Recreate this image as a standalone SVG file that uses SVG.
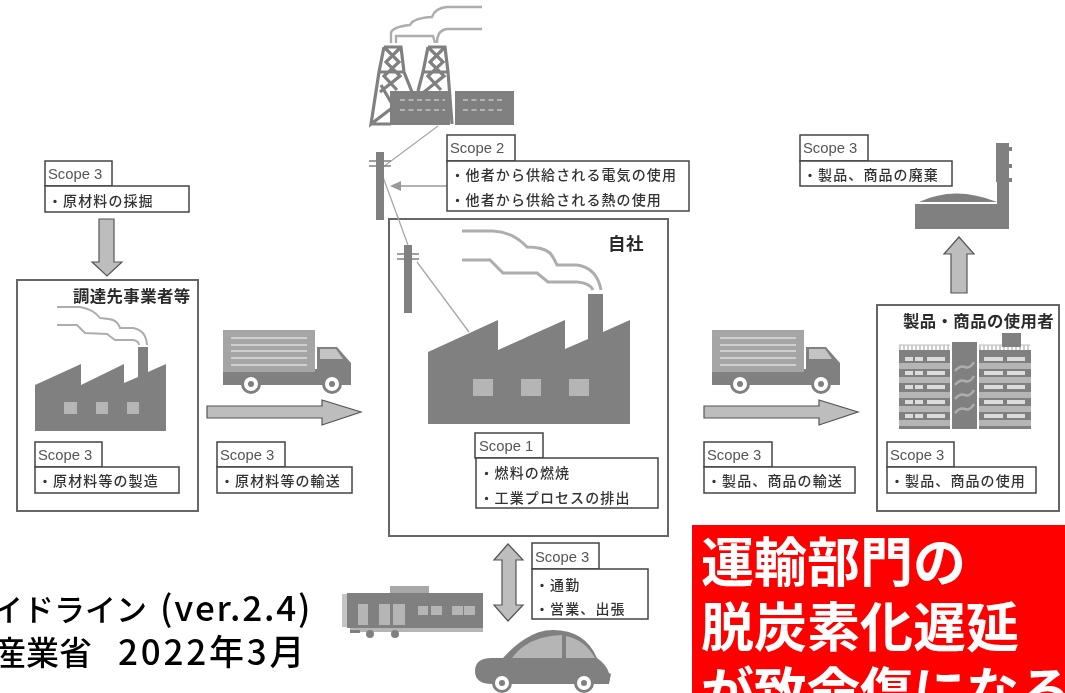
<svg xmlns="http://www.w3.org/2000/svg" width="1065" height="693" viewBox="0 0 1065 693">
<style>
text{font-family:"Noto Sans CJK JP","Liberation Sans",sans-serif;fill:#333}
.s{font-family:"Liberation Sans","Noto Sans CJK JP",sans-serif;font-size:14.800px;fill:#555}
.t{font-size:14px;letter-spacing:1.1px;font-weight:500}
.h{font-size:16.400px;font-weight:700;letter-spacing:.4px;fill:#2c2c2c}
.b{fill:#fff;stroke:#444;stroke-width:1.5}
.f{fill:#fff;stroke:#666;stroke-width:2}
.d{fill:#808080}
.l{fill:#b5b5b5}
.sm{fill:none;stroke:#adadad;stroke-width:2.400}
.sl{fill:none;stroke:#a8a8a8;stroke-width:1.300}
.ar{fill:#bdbdbd;stroke:#555;stroke-width:1.200}
.tw{fill:none;stroke:#808080;stroke-width:3.200}
.big{font-size:53px;font-weight:700;fill:#fff}
.src{fill:#000;font-weight:500}
</style>
<defs>
<filter id="soft" x="-2%" y="-2%" width="104%" height="104%"><feGaussianBlur stdDeviation="0.5"/></filter>
<g id="truck">
<rect x="223" y="330" width="92" height="42" fill="#a5a5a5"/>
<path fill="#cfcfcf" d="M231 337h76v2h-76zM231 344h76v2h-76zM231 350h76v2h-76zM231 357h76v2h-76zM231 364h76v2h-76z"/>
<path class="d" d="M223 372h92v-3h2v-22h20l14 16v22H223z"/>
<path fill="#c4c4c4" d="M320 349h16l7 10h-23z"/>
<circle cx="251" cy="384" r="8.500" fill="#fff" stroke="#808080" stroke-width="3"/><circle cx="251" cy="384" r="3" class="d"/>
<circle cx="332" cy="384" r="8.500" fill="#fff" stroke="#808080" stroke-width="3"/><circle cx="332" cy="384" r="3" class="d"/>
</g>
<g id="pole">
<rect class="d" x="0" y="0" width="8" height="68"/>
<path d="M-7 9h22M-7 14h22" stroke="#808080" stroke-width="1.600"/>
</g>
<path id="harrow" class="ar" d="M207 406h115v-6l39 12-39 13v-7H207z"/>
</defs>
<g filter="url(#soft)">
<g id="connectors">
<path class="sl" d="M438 126 383 167M383 177 408 245M417 262 469 332"/>
<path d="M447 186H394" stroke="#999" stroke-width="1.500"/>
<path fill="#999" d="M390 186l11-5v10z"/>
<path class="ar" d="M99 219h15v43h8l-15 14-15-14h7z"/>
<use href="#harrow"/>
<use href="#harrow" x="497"/>
<path class="ar" d="M951 293v-39h-7l15-17 15 17h-7v39z"/>
<path class="ar" d="M508 544l15 16h-7v45h7l-15 16-14-16h8v-45h-8z"/>
</g>
<g id="power-plant">
<path class="sm" d="M391 43V33Q392 27 410 25Q413 18 432 17Q435 8 447 7H482"/>
<path class="sm" d="M396 43V36H433L435 43M437 43Q437 30 447 29H482"/>
<path class="tw" d="M384 47H401L404 72 412 92M384 47 379 72 371 124 392 108M384 47 399 62 384 76 397 90M401 47 386 62 400 76 380 92M379 72H404M371 124 391 124M381 85 392 104"/>
<path class="tw" d="M428 47H445L448 72 452 124M428 47 423 72 418 91M428 47 443 62 428 76 441 90M445 47 430 62 444 76 424 92M423 72H448"/>
<rect class="d" x="390" y="91" width="60" height="34"/>
<rect class="d" x="455" y="91" width="59" height="34"/>
<path d="M400 100h45M400 110h45M463 100h42M463 110h42" stroke="#c4c4c4" stroke-width="1.400" stroke-dasharray="5 3.500"/>
</g>
<g id="pole-1"><use href="#pole" x="376" y="152"/></g>
<g id="scope2">
<rect class="b" x="447" y="135" width="68" height="26"/>
<rect class="b" x="447" y="161" width="242" height="50"/>
<text class="s" x="450" y="153">Scope 2</text>
<text class="t" x="450.500" y="180">・他者から供給される電気の使用</text>
<text class="t" x="450.500" y="205">・他者から供給される熱の使用</text>
</g>
<g id="scope3-extract">
<rect class="b" x="45" y="161" width="67" height="25"/>
<rect class="b" x="45" y="186" width="144" height="26"/>
<text class="s" x="48" y="179">Scope 3</text>
<text class="t" x="48" y="206">・原材料の採掘</text>
</g>
<g id="supplier">
<rect class="f" x="17" y="280" width="181" height="231"/>
<text class="h" x="73" y="302">調達先事業者等</text>
<path class="sm" style="stroke-width:2" d="M57 307H80Q93 309 100 318Q110 319 113 320Q118 322 120 328H133Q146 330 147 345"/>
<path class="sm" style="stroke-width:2" d="M57 325H77L85 333 107 334 115 340H133Q139 341 139 345"/>
<path class="d" d="M35 385 81 364V385L124 364V383L138 377V347H148V372L166 364V431H35z"/>
<path class="l" d="M64 402h13v12H64zM96 402h12v12H96zM127 402h12v12h-12z"/>
<rect class="b" x="35" y="442" width="67" height="25"/>
<rect class="b" x="35" y="467" width="144" height="26"/>
<text class="s" x="38" y="460">Scope 3</text>
<text class="t" x="38" y="486">・原材料等の製造</text>
</g>
<g id="truck-in"><use href="#truck"/></g>
<g id="scope3-inbound">
<rect class="b" x="217" y="442" width="68" height="25"/>
<rect class="b" x="217" y="467" width="135" height="26"/>
<text class="s" x="220" y="460">Scope 3</text>
<text class="t" x="220" y="486">・原材料等の輸送</text>
</g>
<g id="own-company">
<rect class="f" x="389" y="219" width="279" height="317"/>
<text class="h" x="608" y="250" style="font-size:17.500px">自社</text>
<use href="#pole" x="404" y="245"/>
<path class="sl" d="M417 262 469 332M397 215 408 245"/>
<path class="sm" style="stroke-width:3" d="M462 231H493Q513 232 527 247Q543 247 550 253Q554 258 557 265H577Q597 268 601 290"/>
<path class="sm" style="stroke-width:3" d="M462 260H490L503 273H537L548 282H577Q590 283 593 290"/>
<path class="d" d="M428 352 498 320V350L565 320V349L588 339V294H603V332L630 320V424H428z"/>
<path class="l" d="M473 379h20v17h-20zM521 379h20v17h-20zM569 379h20v17h-20z"/>
<rect class="b" x="475" y="433" width="68" height="25"/>
<rect class="b" x="476" y="458" width="182" height="50"/>
<text class="s" x="479" y="451">Scope 1</text>
<text class="t" x="479.500" y="478">・燃料の燃焼</text>
<text class="t" x="479.500" y="503">・工業プロセスの排出</text>
</g>
<g id="truck-out"><use href="#truck" x="489"/></g>
<g id="scope3-outbound">
<rect class="b" x="704" y="442" width="68" height="25"/>
<rect class="b" x="704" y="467" width="151" height="26"/>
<text class="s" x="707" y="460">Scope 3</text>
<text class="t" x="707" y="486">・製品、商品の輸送</text>
</g>
<g id="user">
<rect class="f" x="877" y="305" width="182" height="206"/>
<text class="h" x="903" y="327">製品・商品の使用者</text>
<path d="M900 350V345M904 350V345M908 350V345M912 350V345M916 350V345M920 350V345M924 350V345M928 350V345M932 350V345M936 350V345M940 350V345M944 350V345M948 350V345M980 350V345M984 350V345M988 350V345M992 350V345M996 350V345M1000 350V345M1004 350V345M1008 350V345M1012 350V345M1016 350V345M1020 350V345M1024 350V345M1028 350V345" stroke="#999" stroke-width="1"/>
<path d="M899 345H950M979 345H1030" stroke="#bbb" stroke-width="1"/>
<rect class="d" x="899" y="350" width="51" height="79"/>
<rect class="d" x="952" y="342" width="25" height="87"/>
<rect class="d" x="979" y="350" width="52" height="79"/>
<rect class="d" x="1002" y="333" width="19" height="14"/>
<path class="l" d="M899 363h51v6h-51zM899 377h51v6h-51zM899 392h51v6h-51zM899 406h51v6h-51zM899 420h51v6h-51zM979 363h52v6h-52zM979 377h52v6h-52zM979 392h52v6h-52zM979 406h52v6h-52zM979 420h52v6h-52z"/>
<path fill="#dcdcdc" d="M905 357h8v4h-8zM915 357h8v4h-8zM927 357h18v4h-18zM905 371h8v4h-8zM915 371h8v4h-8zM927 371h18v4h-18zM905 385h8v4h-8zM915 385h8v4h-8zM927 385h18v4h-18zM905 400h8v4h-8zM915 400h8v4h-8zM927 400h18v4h-18zM905 414h8v4h-8zM915 414h8v4h-8zM927 414h18v4h-18zM984 357h19v4h-19zM1007 357h18v4h-18zM984 371h19v4h-19zM1007 371h18v4h-18zM984 385h19v4h-19zM1007 385h18v4h-18zM984 400h19v4h-19zM1007 400h18v4h-18zM984 414h19v4h-19zM1007 414h18v4h-18z"/>
<path d="M955 371Q960 365 965 367T974 362M955 385Q960 379 965 381T974 376M955 399Q960 393 965 395T974 390M955 413Q960 407 965 409T974 404" fill="none" stroke="#adadad" stroke-width="2.500"/>
<rect class="b" x="887" y="442" width="67" height="25"/>
<rect class="b" x="887" y="467" width="149" height="26"/>
<text class="s" x="890" y="460">Scope 3</text>
<text class="t" x="890" y="486">・製品、商品の使用</text>
</g>
<g id="scope3-disposal">
<rect class="b" x="800" y="135" width="68" height="26"/>
<rect class="b" x="800" y="161" width="152" height="25"/>
<text class="s" x="803" y="153">Scope 3</text>
<text class="t" x="803" y="180">・製品、商品の廃棄</text>
</g>
<g id="incinerator">
<path class="d" d="M996 143H1009V229H915V204H997V182H996z"/>
<path class="d" d="M919 202Q955 185 997 202z"/>
<path class="d" d="M1009 147h3v4h-3zM1009 164h3v4h-3zM1009 178h3v4h-3z"/>
</g>
<g id="scope3-commute">
<rect class="b" x="532" y="543" width="67" height="26"/>
<rect class="b" x="532" y="569" width="116" height="50"/>
<text class="s" x="535" y="562">Scope 3</text>
<text class="t" x="535" y="590">・通勤</text>
<text class="t" x="535" y="614">・営業、出張</text>
</g>
<g id="train">
<rect x="342" y="594" width="6" height="33" fill="#c4c4c4"/>
<rect x="390" y="586" width="39" height="7" fill="#a8a8a8"/>
<rect class="d" x="347" y="593" width="136" height="35"/>
<rect x="350" y="628" width="133" height="4" fill="#b5b5b5"/>
<path class="l" d="M358 604h10v21h-10zM379 604h11v21h-11zM393 604h12v21h-12zM418 606h10v9h-10zM431 606h11v9h-11zM452 606h11v9h-11zM464 606h11v9h-11z"/>
<rect class="d" x="350" y="630" width="10" height="3"/>
<circle class="d" cx="370" cy="634" r="4"/><circle class="d" cx="395" cy="634" r="4"/>
</g>
<g id="car">
<path class="d" d="M492 658H503Q528 630 553 630Q585 630 597 658Q606 664 609 673L611 674 609 684H492Q475 684 475 671Q475 658 492 658z"/>
<path class="l" d="M512 658Q528 636 562 635V658zM566 636Q585 640 595 658H566z"/>
<circle cx="502" cy="683" r="8.500" fill="#fff" stroke="#808080" stroke-width="3"/><circle class="d" cx="502" cy="683" r="3"/>
<circle cx="584" cy="683" r="8.500" fill="#fff" stroke="#808080" stroke-width="3"/><circle class="d" cx="584" cy="683" r="3"/>
</g>
</g>
<g id="source">
<text class="src" y="621"><tspan x="147" text-anchor="end" style="font-size:31px">イドライン</tspan><tspan x="160" style="font-size:35px;letter-spacing:1.800px">(ver.2.4)</tspan></text>
<text class="src" y="665"><tspan x="92" text-anchor="end" style="font-size:33px">産業省</tspan><tspan x="118" style="font-size:35px;letter-spacing:2.800px">2022年3月</tspan></text>
</g>
<g id="callout">
<rect x="692" y="525" width="373" height="168" fill="#f00"/>
<text class="big" x="701" y="582">運輸部門の</text>
<text class="big" x="701" y="647">脱炭素化遅延</text>
<text class="big" x="701" y="712">が致命傷になる</text>
</g>
</svg>
